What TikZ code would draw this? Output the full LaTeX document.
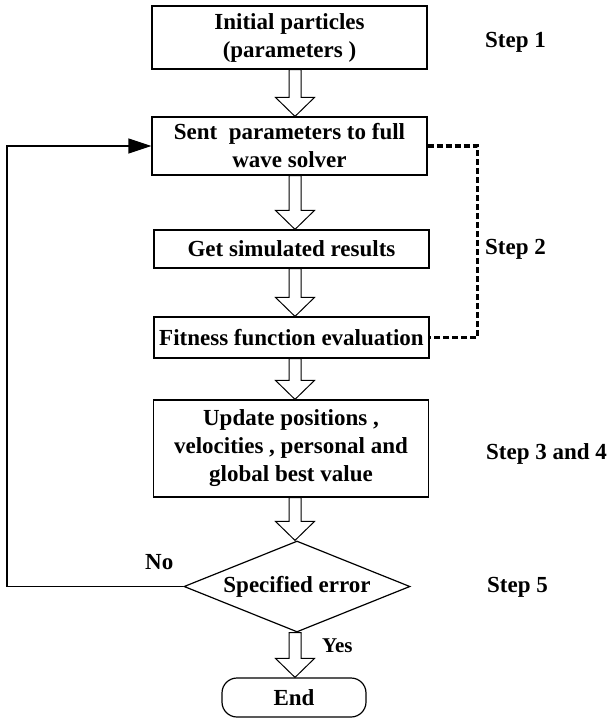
\documentclass[tikz,border=0pt]{standalone}
\usepackage{fontspec}
\setmainfont{Liberation Serif}
\usetikzlibrary{shapes.geometric,arrows.meta,calc}
\newcommand{\hollowarrow}[2]{%
\draw[blockarrow] ($(#1.south -| ax)+(-6,0)$) -- ($(#2.north -| ax)+(-6,-19)$)
  -- ($(#2.north -| ax)+(-19.5,-19)$) -- (#2.north -| ax)
  -- ($(#2.north -| ax)+(19.5,-19)$) -- ($(#2.north -| ax)+(6,-19)$)
  -- ($(#1.south -| ax)+(6,0)$) -- cycle;}
\begin{document}
\begin{tikzpicture}[x=1pt,y=-1pt,
  txt/.style={font=\fontsize{23}{28}\selectfont\bfseries},
  box/.style={txt,draw,line width=1.2pt,minimum width=275pt,align=center,inner sep=2pt},
  decision/.style={txt,draw,diamond,aspect=2.5,line width=1.2pt,minimum width=226pt,minimum height=91pt,inner sep=1pt},
  terminal/.style={txt,draw,rounded corners=15pt,line width=1.2pt,minimum width=144pt,minimum height=39pt},
  steplabel/.style={txt,anchor=base west,inner sep=0pt},
  blockarrow/.style={draw,fill=white,line width=1pt},
  dashline/.style={line width=3.5pt,dash pattern=on 6pt off 3pt},
  loopline/.style={line width=1.3pt,-{Triangle[length=23pt,width=15pt]}}]
\useasboundingbox (0,0) rectangle (612,718);
\coordinate (ax) at (295,0);
\coordinate (loop) at (7,0);
\node[box,minimum height=63pt] (init) at (289.5,37.5) {Initial particles\\(parameters )};
\node[box,minimum height=58pt] (send) at (289.5,146) {Sent \ parameters to full\\wave solver};
\node[box,minimum height=38pt] (sim) at (291.5,249) {Get simulated results};
\node[box,minimum height=41pt] (fit) at (291.5,337.5) {Fitness function evaluation};
\node[box,minimum height=97pt] (upd) at (291,448.5) {Update positions ,\\velocities , personal and\\global best value};
\node[decision] (err) at (297,586.5) {Specified error};
\node[terminal] (end) at (294,697.5) {End};
\hollowarrow{init}{send}
\hollowarrow{send}{sim}
\hollowarrow{sim}{fit}
\hollowarrow{fit}{upd}
\hollowarrow{upd}{err}
\hollowarrow{err}{end}
\draw[dashline] (send.east) -- ++(50,0) |- (fit.east);
\draw[loopline] (err.west) -- (err.west -| loop) |- (send.west);
\node[steplabel] (s1) at (485,47) {Step 1};
\node[steplabel] (s2) at (485,254) {Step 2};
\node[steplabel] (s34) at (486,459) {Step 3 and 4};
\node[steplabel] (s5) at (487,592) {Step 5};
\node[steplabel] (no) at (145,569) {No};
\node[steplabel,font=\fontsize{21}{24}\selectfont\bfseries] (yes) at (322,652) {Yes};
\end{tikzpicture}
\end{document}
